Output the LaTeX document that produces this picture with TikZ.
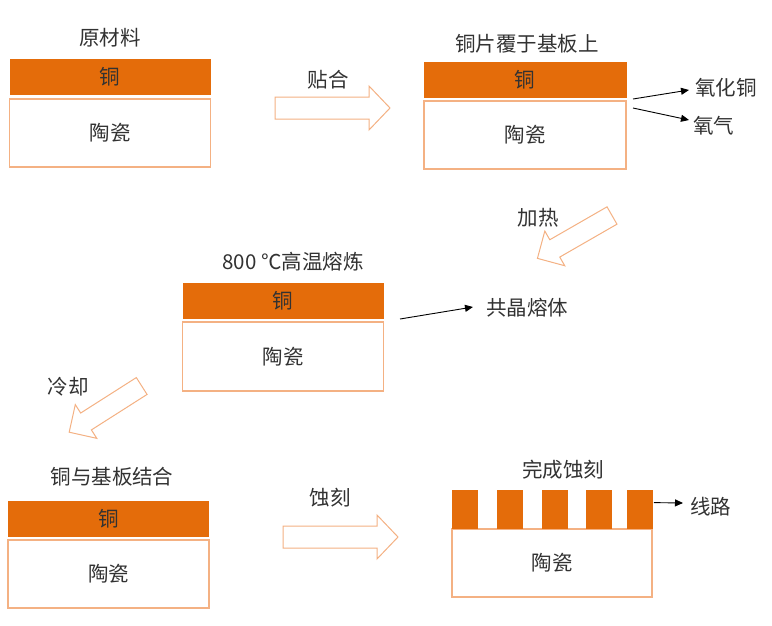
\documentclass[tikz,border=0pt]{standalone}
\usepackage{fontspec}
\setmainfont{Noto Sans CJK SC}
\usetikzlibrary{arrows.meta,calc}
\definecolor{copper}{RGB}{228,108,10}
\definecolor{ceram}{RGB}{244,177,131}
\definecolor{txt}{RGB}{50,50,50}
\newcommand\lblfont{\fontsize{20.5}{24}\selectfont}
\tikzset{
 cu/.style={fill=copper, draw=copper, line width=0.8pt, minimum width=200pt, minimum height=35pt, inner sep=0pt, text=txt, font=\lblfont},
 cer/.style={draw=ceram, fill=white, line width=1.2pt, minimum width=201pt, minimum height=68pt, inner sep=0pt, text=txt, font=\lblfont},
 tooth/.style={fill=copper, draw=copper, line width=0.8pt, minimum width=25pt, minimum height=38pt, inner sep=0pt},
 lbl/.style={text=txt, font=\lblfont, inner sep=1pt},
 hollow/.style={draw=ceram, fill=white, line width=1pt, line join=miter},
 conn/.style={draw=black, line width=0.9pt, -{Triangle[length=8pt,width=7pt]}},
 pics/harrow/.style args={#1/#2/#3/#4}{code={
   \draw[hollow] (0,-#3) -- (#1-#2,-#3) -- (#1-#2,-#4) -- (#1,0) -- (#1-#2,#4) -- (#1-#2,#3) -- (0,#3) -- cycle;}},
}
\begin{document}
\begin{tikzpicture}[x=1pt,y=-1pt]
\useasboundingbox (0,0) rectangle (772,625);
% block 1
\node[lbl] (t1) at (110,38) {原材料};
\node[cu] (cu1) at (110,77) {铜};
\node[cer] (ce1) at (110,133) {陶瓷};
% arrow 1
\path (275,108) pic {harrow=115/21/11/22};
\node[lbl] (a1) at (328,80) {贴合};
% block 2
\node[lbl] (t2) at (527,44) {铜片覆于基板上};
\node[cu, minimum width=202pt] (cu2) at (525,79.5) {铜};
\node[cer, minimum width=202pt] (ce2) at (525,135) {陶瓷};
\node[lbl, anchor=west] (ox) at (694,88) {氧化铜};
\node[lbl, anchor=west] (o2) at (692,126) {氧气};
\coordinate (s1) at (633,99);
\coordinate (s2) at (633,108);
\draw[conn] (s1) -- ($(ox.west)+(-5,2)$);
\draw[conn] (s2) -- ($(o2.west)+(-3,-6)$);
% heating arrow
\path (612,215.5) pic[rotate=209.9] {harrow=86/20/10/20};
\node[lbl] (a2) at (538,218) {加热};
% block 3
\node[lbl] (t3) at (293,262) {800 ℃高温熔炼};
\node[cu] (cu3) at (283,300.5) {铜};
\node[cer, minimum height=69pt] (ce3) at (283,356.5) {陶瓷};
\coordinate (s3) at (400,319);
\node[lbl, anchor=west] (eu) at (485,308) {共晶熔体};
\draw[conn] (s3) -- ($(eu.west)+(-12,-1)$);
% cooling arrow
\path (141.7,386) pic[rotate=212.5] {harrow=86/20/10/20};
\node[lbl] (a3) at (68,387) {冷却};
% block 4
\node[lbl] (t4) at (112,477) {铜与基板结合};
\node[cu] (cu4) at (108.5,518.5) {铜};
\node[cer] (ce4) at (108.5,574) {陶瓷};
% arrow 4
\path (283,537) pic {harrow=115/21/11/22};
\node[lbl] (a4) at (330,498) {蚀刻};
% block 5
\node[lbl] (t5) at (563,470) {完成蚀刻};
\node[cer, minimum width=200pt] (ce5) at (552,563) {陶瓷};
\node[tooth, anchor=south west] (p1) at (452,529) {};
\node[tooth, anchor=south west] (p2) at (497,529) {};
\node[tooth, anchor=south west] (p3) at (542,529) {};
\node[tooth, anchor=south west] (p4) at (586,529) {};
\node[tooth, anchor=south west] (p5) at (627,529) {};
\node[lbl, anchor=west] (ln) at (689,507) {线路};
\draw[conn] ($(p5.east)+(1,-7)$) -- ($(ln.west)+(-6,-4)$);
\end{tikzpicture}
\end{document}
